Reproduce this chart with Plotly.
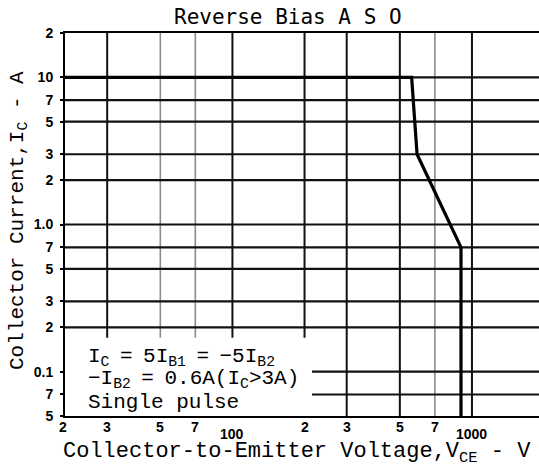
import math
import plotly.graph_objects as go

# ---- data ----
vce = [20, 560, 590, 900, 900]          # V
ic = [10, 10, 3, 0.7, 0.05]              # A

x_tickvals = [20, 30, 50, 70, 100, 200, 300, 500, 700, 1000, 2000]
x_ticktext = ["2", "3", "5", "7", "100", "2", "3", "5", "7", "1000", "2"]
y_tickvals = [20, 10, 7, 5, 3, 2, 1, 0.7, 0.5, 0.3, 0.2, 0.1, 0.07, 0.05]
y_ticktext = ["2", "10", "7", "5", "3", "2", "1.0", "7", "5", "3", "2", "0.1", "7", "5"]

grid_x_black = [30, 100, 200, 300, 500, 1000]
grid_x_gray = [50, 70, 700]
grid_y = [10, 7, 5, 3, 2, 1, 0.7, 0.5, 0.3, 0.2, 0.1, 0.07]

X_MIN, X_MAX = 20, 1905
Y_MIN, Y_MAX = 0.05, 20
BOX_TOP_Y = 0.17     # text box upper edge (lines stop there)
BOX_RIGHT_X = 215    # text box right edge

MONO = "Liberation Mono, Courier New, monospace"
SP = "\u2002"


def vlines(xs):
    px, py = [], []
    for x in xs:
        y0 = BOX_TOP_Y if x <= 200 else Y_MIN
        px += [x, x, None]
        py += [y0, Y_MAX, None]
    return px, py


def hlines(ys):
    px, py = [], []
    for y in ys:
        x0 = BOX_RIGHT_X if y < BOX_TOP_Y else X_MIN
        px += [x0, X_MAX, None]
        py += [y, y, None]
    return px, py


fig = go.Figure()

gx, gy = vlines(grid_x_gray)
fig.add_trace(go.Scatter(x=gx, y=gy, mode="lines", line=dict(color="#8c8c8c", width=1.6),
                         hoverinfo="skip", showlegend=False))
gx, gy = vlines(grid_x_black)
fig.add_trace(go.Scatter(x=gx, y=gy, mode="lines", line=dict(color="#111111", width=2),
                         hoverinfo="skip", showlegend=False))
gx, gy = hlines(grid_y)
fig.add_trace(go.Scatter(x=gx, y=gy, mode="lines", line=dict(color="#111111", width=2.2),
                         hoverinfo="skip", showlegend=False))

fig.add_trace(go.Scatter(x=vce, y=ic, mode="lines", line=dict(color="black", width=3.2),
                         hoverinfo="skip", showlegend=False))

annotations = []
# x tick labels
for v, t in zip(x_tickvals, x_ticktext):
    big = t in ("100", "1000")
    annotations.append(dict(
        x=math.log10(v), y=0, xref="x", yref="paper", text=t, showarrow=False,
        xanchor="center", yanchor="top", yshift=-8 if big else -1,
        xshift=-8 if v == 2000 else (-2 if v == 20 else 0),
        font=dict(family="Liberation Sans, Arial", size=14, color="black", weight="bold"),
    ))

# text box
box_lines = [
    (f"I<sub>C</sub>{SP}={SP}5I<sub>B1</sub>{SP}={SP}−5I<sub>B2</sub>", 357),
    (f"−I<sub>B2</sub>{SP}={SP}0.6A(I<sub>C</sub>>3A)", 379),
    ("Single pulse", 402),
]
for txt, ypix in box_lines:
    annotations.append(dict(
        x=(86 - 65) / 474, y=(416 - ypix) / 383, xref="paper", yref="paper",
        text=txt, showarrow=False, xanchor="left", yanchor="middle",
        font=dict(family=MONO, size=21, color="black"),
    ))

# axis titles
annotations.append(dict(
    x=(297 - 65) / 474, y=(416 - 453) / 383, xref="paper", yref="paper",
    text="Collector-to-Emitter Voltage,V<sub>CE</sub> - V", showarrow=False,
    xanchor="center", yanchor="middle", font=dict(family=MONO, size=22, color="black"),
))
annotations.append(dict(
    x=(18 - 65) / 474, y=(416 - 221) / 383, xref="paper", yref="paper",
    text="Collector Current,I<sub>C</sub> - A", showarrow=False, textangle=-90,
    xanchor="center", yanchor="middle", font=dict(family=MONO, size=21, color="black"),
))
# title
annotations.append(dict(
    x=(288 - 65) / 474, y=(416 - 17) / 383, xref="paper", yref="paper",
    text="Reverse Bias A S O", showarrow=False, xanchor="center", yanchor="middle",
    font=dict(family="DejaVu Sans Mono", size=21, color="black"),
))

fig.update_layout(
    width=539, height=468,
    margin=dict(l=65, r=0, t=33, b=52),
    paper_bgcolor="white", plot_bgcolor="white",
    annotations=annotations,
    hovermode=False,
)
fig.update_xaxes(type="log", range=[math.log10(X_MIN), math.log10(X_MAX)],
                 showgrid=False, zeroline=False, showticklabels=False, ticks="",
                 showline=True, linecolor="black", linewidth=2, mirror=True)
fig.update_yaxes(type="log", range=[math.log10(Y_MIN), math.log10(Y_MAX)],
                 showgrid=False, zeroline=False,
                 tickmode="array", tickvals=y_tickvals, ticktext=y_ticktext,
                 ticks="outside", ticklen=3, tickcolor="black", tickwidth=1.5,
                 tickfont=dict(family="Liberation Sans, Arial", size=14, color="black", weight="bold"),
                 ticklabelstandoff=4,
                 showline=True, linecolor="black", linewidth=2)

fig.write_html("out.html", config={"displayModeBar": False},
               post_script="document.body.style.margin='0';")
